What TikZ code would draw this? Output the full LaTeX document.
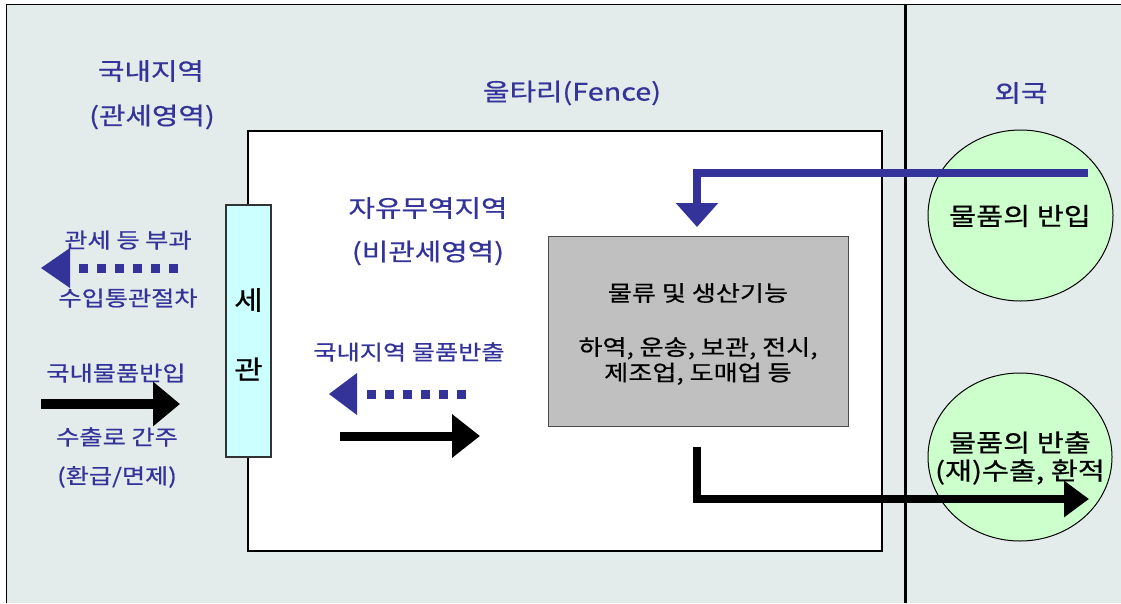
\documentclass[tikz,border=0pt]{standalone}
\usepackage{fontspec}
\newfontfamily\kr[FakeStretch=1.2,FakeBold=0.6]{Noto Sans CJK KR}
\usetikzlibrary{arrows.meta,shapes.geometric}
\definecolor{bgc}{HTML}{E4ECEB}
\definecolor{tblue}{HTML}{333399}
\definecolor{boxgray}{HTML}{C0C0C0}
\definecolor{cgreen}{HTML}{CCFFCC}
\definecolor{ccyan}{HTML}{CCFFFF}
\begin{document}
\begin{tikzpicture}[x=1pt,y=-1pt,
  headtxt/.style={text=tblue, inner sep=0pt, font=\kr\fontsize{24}{28}\selectfont},
  bluetxt/.style={text=tblue, inner sep=0pt, font=\kr\fontsize{21}{25}\selectfont},
  blktxt/.style={text=black, inner sep=0pt, font=\kr\fontsize{21.8}{25.5}\selectfont},
  circtxt/.style={text=black, inner sep=0pt, font=\kr\fontsize{24.5}{28}\selectfont},
  fencebox/.style={draw=black, line width=1.5pt, fill=white, inner sep=0pt},
  funcbox/.style={draw=black!70, line width=1pt, fill=boxgray, inner sep=0pt},
  customsbox/.style={draw=black!80, line width=1.2pt, fill=ccyan, inner sep=0pt},
  zone/.style={ellipse, draw=black, line width=1pt, fill=cgreen, inner sep=0pt},
  blkarrow/.style={draw=black, line width=10pt},
  dotline/.style={draw=tblue, line width=9pt, dash pattern=on 9pt off 9pt},
]
\useasboundingbox (0,0) rectangle (1121,603);
% background and frame
\fill[bgc] (6,4) rectangle (1121,603);
\draw[line width=1.5pt] (6.5,603) -- (6.5,4.5) -- (1121,4.5);
% fence box
\node[fencebox, minimum width=634pt, minimum height=420pt] (fence) at (565,341) {};
% border line to foreign
\draw[line width=3pt] (905,4.5) -- (905,603);
% function box
\node[funcbox, minimum width=300pt, minimum height=190pt] (func) at (698,331) {};
% customs box
\node[customsbox, minimum width=45pt, minimum height=252pt] (customs) at (248.5,331) {};
\node[text=black, inner sep=0pt, font=\kr\fontsize{26}{30}\selectfont] (se) at (248.5,300) {세};
\node[text=black, inner sep=0pt, font=\kr\fontsize{26}{30}\selectfont] (gwan) at (248.5,369) {관};
% foreign zones
\node[zone, minimum width=185pt, minimum height=171pt] (zin) at (1020.5,215.5) {};
\node[zone, minimum width=184pt, minimum height=168pt] (zout) at (1020,457) {};

% headings
\node[headtxt] (t1) at (151,71) {국내지역};
\node[headtxt] (t2) at (152,117) {(관세영역)};
\node[headtxt] (t3) at (572,93) {울타리(Fence)};
\node[headtxt] (t4) at (1021,93) {외국};
\node[headtxt] (t5) at (428,208) {자유무역지역};
\node[headtxt] (t6) at (428,253) {(비관세영역)};

% left labels
\node[bluetxt] (l1) at (128,240) {관세 등 부과};
\node[bluetxt] (l2) at (128,298) {수입통관절차};
\node[bluetxt] (l3) at (116,373) {국내물품반입};
\node[bluetxt] (l4) at (117,437) {수출로 간주};
\node[bluetxt] (l5) at (117,477) {(환급/면제)};
\node[bluetxt] (l6) at (409,352) {국내지역 물품반출};

% function box text
\node[blktxt] (f1) at (698,293) {물류 및 생산기능};
\node[blktxt, align=center] (f2) at (698,361) {하역, 운송, 보관, 전시,\\제조업, 도매업 등};

% zone text
\node[circtxt] (z1) at (1020,216) {물품의 반입};
\node[circtxt, align=center] (z2) at (1020,458) {물품의 반출\\(재)수출, 환적};

% dotted arrow 1 (left)
\coordinate (d1tip) at (41,268);
\coordinate (d1s) at (79,268);
\coordinate (d1e) at (178,268);
\draw[dotline] (d1s) -- (d1e);
\fill[tblue] (d1tip) -- ++(29,-20) -- ++(0,40) -- cycle;

% dotted arrow 2
\coordinate (d2tip) at (329,394);
\coordinate (d2s) at (367,394);
\coordinate (d2e) at (466,394);
\draw[dotline] (d2s) -- (d2e);
\fill[tblue] (d2tip) -- ++(28,-21) -- ++(0,42) -- cycle;

% black arrow 1
\coordinate (b1s) at (41,404);
\coordinate (b1e) at (180,404);
\draw[blkarrow, -{Triangle[length=27pt,width=43pt]}] (b1s) -- (b1e);

% black arrow 2
\coordinate (b2s) at (340,436);
\coordinate (b2e) at (480,436);
\draw[draw=black, line width=9pt, -{Triangle[length=28pt,width=42pt]}] (b2s) -- (b2e);

% import arrow
\coordinate (inS) at (1088,173);
\coordinate (inE) at (697,227);
\draw[draw=tblue, line width=8pt, -{Triangle[length=24pt,width=41pt]}] (inS) -| (inE);

% export arrow
\coordinate (outS) at (697,447);
\coordinate (outE) at (1089,499);
\draw[draw=black, line width=8pt, -{Triangle[length=25pt,width=35pt]}] (outS) |- (outE);
\end{tikzpicture}
\end{document}
